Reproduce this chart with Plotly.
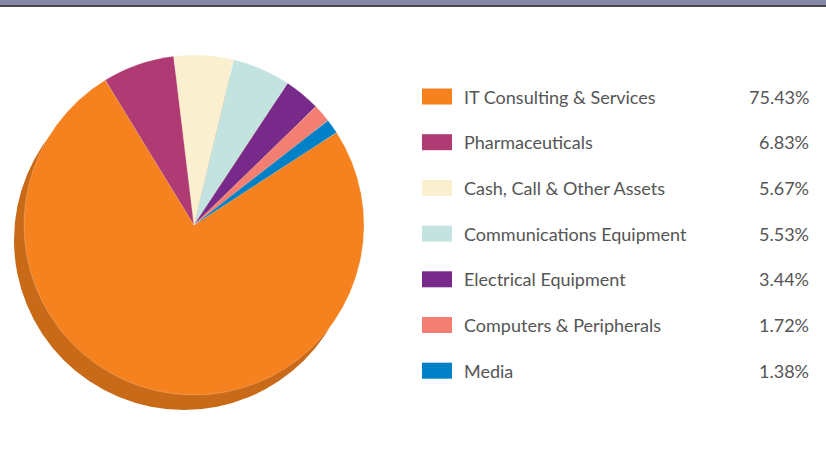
import plotly.graph_objects as go

# ---- data ----
categories = [
    "IT Consulting & Services",
    "Pharmaceuticals",
    "Cash, Call & Other Assets",
    "Communications Equipment",
    "Electrical Equipment",
    "Computers & Peripherals",
    "Media",
]
values = [75.43, 6.83, 5.67, 5.53, 3.44, 1.72, 1.38]
colors = ["#F5821F", "#B03A73", "#FAF0CF", "#C3E3E0", "#782A8A", "#F37F73", "#0080C6"]
shadow_color = "#C96A18"

W, H = 826, 458


def dom(cx, cy, r):
    """pixel centre/radius -> paper domain"""
    return dict(x=[(cx - r) / W, (cx + r) / W], y=[1 - (cy + r) / H, 1 - (cy - r) / H])


R = 170
fig = go.Figure()

# shadow (3D edge) of the pie
fig.add_trace(go.Pie(
    values=[sum(values)], labels=["shadow"], marker=dict(colors=[shadow_color], line=dict(width=0)),
    domain=dom(184, 240, R), textinfo="none", hoverinfo="skip", sort=False,
))

# main pie
fig.add_trace(go.Pie(
    values=values, labels=categories, marker=dict(colors=colors, line=dict(color="rgba(255,255,255,0.35)", width=0.6)),
    domain=dom(194, 225, R), textinfo="none", sort=False, direction="clockwise", rotation=57,
    hovertemplate="%{label}: %{value:.2f}%<extra></extra>",
))

shapes = [
    dict(type="rect", xref="paper", yref="paper", x0=0, x1=1, y0=1 - 5 / H, y1=1,
         fillcolor="#8888A8", line=dict(width=0), layer="above"),
    dict(type="rect", xref="paper", yref="paper", x0=0, x1=1, y0=1 - 7 / H, y1=1 - 5 / H,
         fillcolor="#4A4A4A", line=dict(width=0), layer="above"),
]
annotations = []
font = dict(family="Lato, 'Open Sans', sans-serif", size=18, color="#555555")
for i, (cat, val, col) in enumerate(zip(categories, values, colors)):
    yc = 96.5 + 45.7 * i
    shapes.append(dict(type="rect", xref="paper", yref="paper",
                       x0=422 / W, x1=452 / W, y0=1 - (yc + 8) / H, y1=1 - (yc - 8) / H,
                       fillcolor=col, line=dict(width=0)))
    annotations.append(dict(x=462 / W, y=1 - yc / H, xref="paper", yref="paper", text=cat,
                            showarrow=False, xanchor="left", yanchor="middle", font=font))
    annotations.append(dict(x=811 / W, y=1 - yc / H, xref="paper", yref="paper", text=f"{val:.2f}%",
                            showarrow=False, xanchor="right", yanchor="middle", font=font))

fig.update_layout(
    width=W, height=H, margin=dict(l=0, r=0, t=0, b=0),
    paper_bgcolor="white", plot_bgcolor="white", showlegend=False,
    shapes=shapes, annotations=annotations,
)

fig.write_html("out.html", config={"displayModeBar": False},
               post_script="document.body.style.margin='0';document.body.style.padding='0';")
